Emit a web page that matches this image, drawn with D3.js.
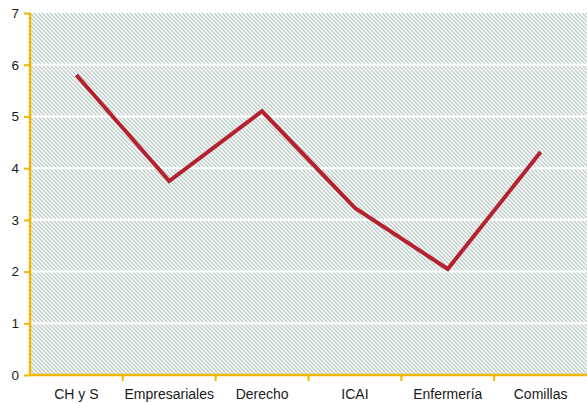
<!DOCTYPE html>
<html>
<head>
<meta charset="utf-8">
<script src="https://cdn.jsdelivr.net/npm/d3@7"></script>
<style>
  body { margin: 0; background: #fff; }
  .tick text { font-family: "Liberation Sans", Arial, sans-serif; font-size: 14px; fill: #1a1a1a; }
  .y-axis .tick text { font-size: 13.5px; }
</style>
</head>
<body>
<div id="chart"></div>
<script>
const categories = ['CH y S', 'Empresariales', 'Derecho', 'ICAI', 'Enfermería', 'Comillas'];
const values = [5.8, 3.75, 5.1, 3.23, 2.05, 4.31];
const yTicks = [0, 1, 2, 3, 4, 5, 6, 7];

const config = {
  width: 587,
  height: 403,
  margin: {top: 13, right: 0, bottom: 28, left: 30}
};
const innerW = config.width - config.margin.left - config.margin.right;
const innerH = config.height - config.margin.top - config.margin.bottom;

const svg = d3.select('#chart').append('svg')
    .attr('width', config.width)
    .attr('height', config.height);

// diagonal hatch for the plot background
const pattern = svg.append('defs').append('pattern')
    .attr('id', 'hatch')
    .attr('patternUnits', 'userSpaceOnUse')
    .attr('width', 4)
    .attr('height', 4);
pattern.append('rect').attr('width', 4).attr('height', 4).attr('fill', '#fff');
pattern.append('path')
    .attr('d', 'M-1,-1 L5,5 M-1,3 L1,5 M3,-1 L5,1')
    .attr('stroke', '#bccec7')
    .attr('stroke-width', 1.4);

const chart = svg.append('g')
    .attr('transform', `translate(${config.margin.left},${config.margin.top})`);

const xScale = d3.scaleBand().domain(categories).range([0, innerW]);
const yScale = d3.scaleLinear().domain([0, 7]).range([innerH, 0]);

chart.append('rect')
    .attr('width', innerW)
    .attr('height', innerH)
    .attr('fill', 'url(#hatch)');

// white horizontal gridlines
chart.selectAll('.grid')
    .data(yTicks.filter(d => d > 0 && d < 7))
  .join('line')
    .attr('class', 'grid')
    .attr('x1', 0)
    .attr('x2', innerW)
    .attr('y1', d => yScale(d))
    .attr('y2', d => yScale(d))
    .attr('stroke', '#fff')
    .attr('stroke-width', 2);

const axisColor = '#f2b705';

const yAxis = chart.append('g')
    .attr('class', 'y-axis')
    .call(d3.axisLeft(yScale).tickValues(yTicks).tickSize(6).tickPadding(5).tickFormat(d3.format('d')));
yAxis.select('.domain').attr('d', `M0,${innerH}V0H0`);

const xAxis = chart.append('g')
    .attr('transform', `translate(0,${innerH})`)
    .call(d3.axisBottom(xScale).tickSize(0).tickPadding(14));
xAxis.select('.domain').remove();

// band boundary ticks on the x axis
chart.append('g')
    .selectAll('line')
    .data(categories.slice(1))
  .join('line')
    .attr('x1', d => xScale(d))
    .attr('x2', d => xScale(d))
    .attr('y1', innerH)
    .attr('y2', innerH + 6)
    .attr('stroke', axisColor)
    .attr('stroke-width', 2);

chart.append('line')
    .attr('x1', 0).attr('x2', innerW)
    .attr('y1', innerH).attr('y2', innerH)
    .attr('stroke', axisColor)
    .attr('stroke-width', 2.5);

svg.selectAll('.domain, .tick line')
    .attr('stroke', axisColor)
    .attr('stroke-width', 2.5);
svg.selectAll('.tick line').attr('stroke-width', 2);

const line = d3.line()
    .x((d, i) => xScale(categories[i]) + xScale.bandwidth() / 2)
    .y(d => yScale(d));

chart.append('path')
    .datum(values)
    .attr('fill', 'none')
    .attr('stroke', '#b5212e')
    .attr('stroke-width', 4)
    .attr('d', line);
</script>
</body>
</html>
